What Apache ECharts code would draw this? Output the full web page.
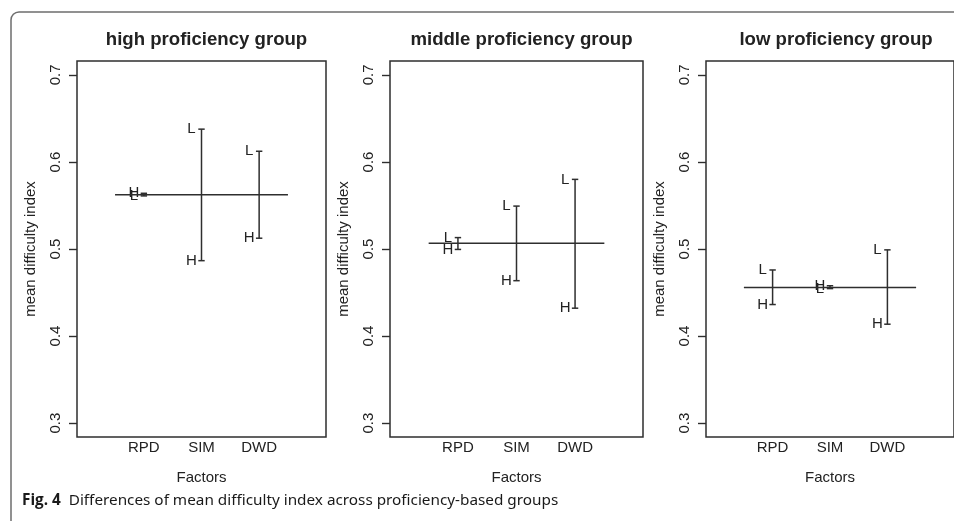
<!DOCTYPE html>
<html>
<head>
<meta charset="utf-8">
<script src="https://cdn.jsdelivr.net/npm/echarts@6/dist/echarts.min.js"></script>
<style>
html,body{margin:0;padding:0;background:#fff;}
#chart{width:954px;height:521px;}
</style>
</head>
<body>
<div id="chart"></div>
<script>
// ---- data ----
const factors = ['RPD', 'SIM', 'DWD'];
const factorPos = [1, 2, 3];
const groupTitles = ['high proficiency group', 'middle proficiency group', 'low proficiency group'];
const grandMean = [0.5624, 0.5066, 0.4558];
const hHigh = [0.5640, 0.4866, 0.5124];
const lHigh = [0.5610, 0.6377, 0.6123];
const hMiddle = [0.4995, 0.4636, 0.4320];
const lMiddle = [0.5131, 0.5493, 0.5800];
const hLow = [0.4362, 0.4578, 0.4136];
const lLow = [0.4759, 0.4545, 0.4990];
const yTicks = [0.3, 0.4, 0.5, 0.6, 0.7];
const yLabel = 'mean difficulty index';
const xLabel = 'Factors';
const caption = 'Differences of mean difficulty index across proficiency-based groups';
const figLabel = 'Fig. 4';

const hSets = [hHigh, hMiddle, hLow];
const lSets = [lHigh, lMiddle, lLow];

// ---- layout ----
const FONT = '"Liberation Sans", Arial, Helvetica, sans-serif';
const CAPFONT = '"Open Sans", "Noto Sans", sans-serif';
const INK = '#222';
const LINE = '#2e2e2e';
const gridLeft = [77, 390, 706];
const gridWidth = [249, 253, 250];
const gridTop = 61, gridHeight = 376;

const grids = [], xAxes = [], yAxes = [], titles = [], series = [];
for (let g = 0; g < 3; g++) {
  grids.push({left: gridLeft[g], top: gridTop, width: gridWidth[g], height: gridHeight,
    show: true, borderColor: LINE, borderWidth: 1.5, backgroundColor: 'transparent'});
  xAxes.push({type: 'value', gridIndex: g, min: -0.16, max: 4.16,
    splitLine: {show: false}, axisLine: {show: false, onZero: false}, axisTick: {show: false},
    axisLabel: {customValues: factorPos, formatter: v => factors[factorPos.indexOf(Math.round(v))] || '',
      color: INK, fontFamily: FONT, fontSize: 15, margin: 3},
    name: xLabel, nameLocation: 'middle', nameGap: 33,
    nameTextStyle: {color: INK, fontFamily: FONT, fontSize: 15}});
  yAxes.push({type: 'value', gridIndex: g, min: 0.284, max: 0.716,
    splitLine: {show: false}, axisLine: {show: false, onZero: false},
    axisTick: {show: true, inside: false, length: 8, customValues: yTicks, lineStyle: {color: LINE, width: 1.4}},
    axisLabel: {customValues: yTicks, rotate: 90, formatter: v => v.toFixed(1),
      color: INK, fontFamily: FONT, fontSize: 15, margin: 14},
    name: yLabel, nameLocation: 'middle', nameGap: 39, nameRotate: 90,
    nameTextStyle: {color: INK, fontFamily: FONT, fontSize: 15}});
  titles.push({text: groupTitles[g], left: gridLeft[g] + gridWidth[g] / 2, top: 25, textAlign: 'center',
    textStyle: {color: INK, fontFamily: FONT, fontSize: 18.6, fontWeight: 'bold'}});
  series.push({type: 'line', xAxisIndex: g, yAxisIndex: g, symbol: 'none', silent: true,
    lineStyle: {color: LINE, width: 1.5},
    data: [[0.5, grandMean[g]], [3.5, grandMean[g]]]});
  series.push({type: 'custom', xAxisIndex: g, yAxisIndex: g, silent: true,
    data: factorPos.map((p, i) => [p, hSets[g][i], lSets[g][i]]),
    renderItem: function (params, api) {
      const x = api.value(0);
      const pH = api.coord([x, api.value(1)]);
      const pL = api.coord([x, api.value(2)]);
      const cap = 3.2;
      const st = {stroke: LINE, lineWidth: 1.5};
      const txt = (p, t) => ({type: 'text', style: {text: t, x: p[0] - 10, y: p[1], align: 'center',
        verticalAlign: 'middle', fill: INK, font: '15px ' + FONT}});
      return {type: 'group', children: [
        {type: 'line', shape: {x1: pH[0], y1: pH[1], x2: pL[0], y2: pL[1]}, style: st},
        {type: 'line', shape: {x1: pH[0] - cap, y1: pH[1], x2: pH[0] + cap, y2: pH[1]}, style: st},
        {type: 'line', shape: {x1: pL[0] - cap, y1: pL[1], x2: pL[0] + cap, y2: pL[1]}, style: st},
        txt(pH, 'H'), txt(pL, 'L')
      ]};
    }});
}

const chart = echarts.init(document.getElementById('chart'), null, {renderer: 'canvas'});
chart.setOption({
  animation: false,
  backgroundColor: '#fff',
  title: titles,
  grid: grids,
  xAxis: xAxes,
  yAxis: yAxes,
  series: series,
  graphic: [
    {type: 'rect', shape: {x: 11, y: 12, width: 980, height: 560, r: 8},
      style: {fill: 'none', stroke: '#6e6e6e', lineWidth: 1.5}, silent: true},
    {type: 'text', left: 22, top: 493, silent: true,
      style: {text: '{b|' + figLabel + '}  ' + caption,
        rich: {b: {fontWeight: 'bold', fontSize: 15.3, fontFamily: CAPFONT, fill: '#1a1a1a'}},
        fontSize: 15.3, fontFamily: '"Noto Sans", "Open Sans", sans-serif', fill: '#1a1a1a'}}
  ]
});
</script>
</body>
</html>
